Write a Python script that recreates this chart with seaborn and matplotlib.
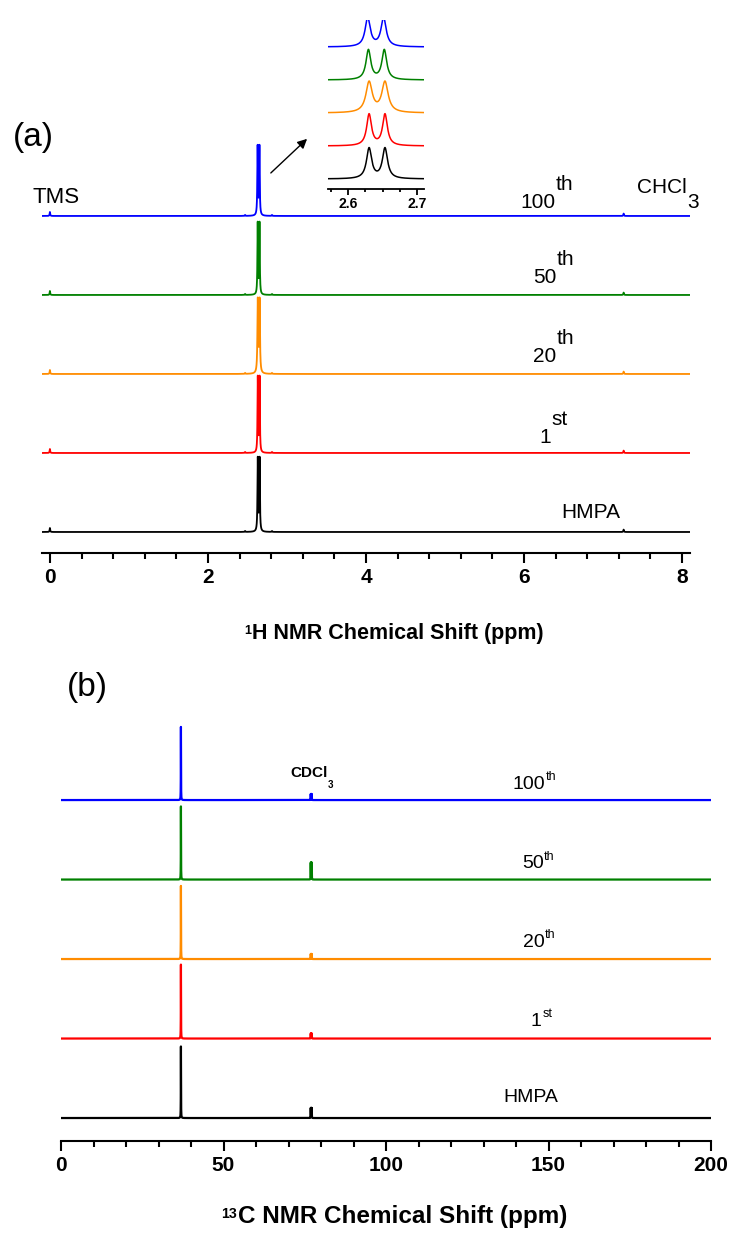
### Packages
import numpy as np
import pandas as pd
import matplotlib
matplotlib.use('Agg')
import matplotlib.pyplot as plt
from matplotlib.ticker import MultipleLocator
import seaborn as sns
sns.set_theme(style='white')
plt.rcParams['font.family'] = ['Liberation Sans', 'DejaVu Sans']
plt.rcParams['text.color'] = 'black'
plt.rcParams['axes.labelcolor'] = 'black'
plt.rcParams['xtick.color'] = 'black'
NARROW = ['Liberation Sans Narrow', 'Liberation Sans', 'DejaVu Sans']

### Data
runs = ['HMPA', '1st', '20th', '50th', '100th']
colors = ['black', '#FF0000', '#FF8C00', '#008000', '#0000FF']

# 1H spectra: HMPA doublet, plus TMS, 13C satellites, CHCl3
h_centre = [2.642, 2.642, 2.642, 2.641, 2.640]
h_split = 0.023
h_height = [0.92, 0.95, 0.92, 0.90, 0.87]
h_width = [0.0045, 0.0042, 0.0055, 0.0042, 0.0045]
h_minor_shift = [0.0, 2.47, 2.81, 7.26]
h_minor_height = [0.05, 0.012, 0.012, 0.03]
h_ticks = [0, 2, 4, 6, 8]
inset_ticks = [2.6, 2.7]

# 13C spectra: HMPA line and CDCl3 triplet
c_hmpa_shift = 36.9
c_hmpa_height = [0.90, 0.93, 0.92, 0.92, 0.92]
c_cdcl3_shift = [76.84, 77.0, 77.16]
c_cdcl3_height = [0.125, 0.063, 0.063, 0.21, 0.075]
c_ticks = [0, 50, 100, 150, 200]


def lorentz(x, x0, h, w):
    return h / (1 + ((x - x0) / w) ** 2)


# build long tables, each run stacked one unit above the previous
h_x = np.linspace(-0.1, 8.1, 20501)
c_x = np.linspace(0, 200, 40001)
h_rows, c_rows = [], []
for i, run in enumerate(runs):
    y = np.full_like(h_x, float(i))
    for s in (-0.5, 0.5):
        y += lorentz(h_x, h_centre[i] + s * h_split, h_height[i], h_width[i])
    for s, h in zip(h_minor_shift, h_minor_height):
        y += lorentz(h_x, s, h, 0.004)
    h_rows.append(pd.DataFrame({'shift': h_x, 'intensity': y, 'run': run}))

    y = np.full_like(c_x, float(i))
    y += lorentz(c_x, c_hmpa_shift, c_hmpa_height[i], 0.03)
    for s in c_cdcl3_shift:
        y += lorentz(c_x, s, c_cdcl3_height[i], 0.02)
    c_rows.append(pd.DataFrame({'shift': c_x, 'intensity': y, 'run': run}))
df_h = pd.concat(h_rows, ignore_index=True)
df_c = pd.concat(c_rows, ignore_index=True)
palette = dict(zip(runs, colors))


def style_axis(ax, ticks, minor, size, major_len, minor_len, lw):
    sns.despine(ax=ax, left=True)
    ax.spines['bottom'].set_linewidth(lw)
    ax.spines['bottom'].set_color('black')
    ax.set_yticks([])
    ax.set_ylabel('')
    ax.set_xticks(ticks)
    ax.set_xticklabels([f'{t:g}' for t in ticks], fontweight='bold',
                       fontsize=size, family=NARROW, color='black')
    ax.xaxis.set_minor_locator(MultipleLocator(minor))
    ax.tick_params(axis='x', which='both', bottom=True, direction='out',
                   width=lw, color='black', pad=4)
    ax.tick_params(axis='x', which='major', length=major_len)
    ax.tick_params(axis='x', which='minor', length=minor_len)
    ax.grid(False)


def label(ax, x, y, base, sup, size, sup_size, rise, **kw):
    t = ax.text(x, y, base, fontsize=size, ha='left', va='baseline', **kw)
    if sup:
        ax.annotate(sup, xy=(1, 0), xycoords=t, xytext=(0.3, rise),
                    textcoords='offset points', fontsize=sup_size,
                    ha='left', va='bottom', **kw)


def xlabel(ax, text, iso, x, y, size):
    ax.set_xlabel(text, fontsize=size, fontweight='bold', family=NARROW)
    ax.xaxis.set_label_coords(x, y)
    ax.annotate(iso, xy=(0, 1), xycoords=ax.xaxis.label, xytext=(-0.5, -1),
                textcoords='offset points', ha='right', va='top',
                fontsize=size * 0.58, fontweight='bold', family=NARROW)


fig = plt.figure(figsize=(7.32, 12.35), dpi=100)

### (a) 1H NMR
ax1 = fig.add_axes([42 / 732, 682 / 1235, 648 / 732, 423 / 1235])
sns.lineplot(data=df_h, x='shift', y='intensity', hue='run', palette=palette,
             estimator=None, sort=False, legend=False, linewidth=1.3, ax=ax1)
ax1.set_xlim(-0.1, 8.1)
ax1.set_ylim(-0.266, 5.088)
style_axis(ax1, h_ticks, 0.4, 15, 7, 4.5, 1.5)
xlabel(ax1, 'H NMR Chemical Shift (ppm)', '1', 0.549, -0.166, 15.5)

label(ax1, 5.95, 4.10, '100', 'th', 15, 15, 13)
label(ax1, 6.115, 3.15, '50', 'th', 15, 15, 13)
label(ax1, 6.115, 2.15, '20', 'th', 15, 15, 13)
label(ax1, 6.19, 1.13, '1', 'st', 15, 15, 13)
label(ax1, 6.47, 0.18, 'HMPA', None, 15, 15, 0)
label(ax1, -0.226, 4.16, 'TMS', None, 16, 16, 0)
label(ax1, 7.43, 4.29, 'CHCl', '3', 15, 15, -10.8)
ax1.annotate('', xy=(3.28, 5.0), xytext=(2.77, 4.52), annotation_clip=False,
             arrowprops=dict(arrowstyle='-|>', color='black', lw=1,
                             mutation_scale=14))
fig.text(13 / 732, 1 - 146 / 1235, '(a)', fontsize=24, va='baseline')

# inset: zoom on the HMPA doublet
ins = fig.add_axes([328 / 732, 1046 / 1235, 96 / 732, 169 / 1235])
sub = df_h[(df_h['shift'] > 2.56) & (df_h['shift'] < 2.72)]
sns.lineplot(data=sub, x='shift', y='intensity', hue='run', palette=palette,
             estimator=None, sort=False, legend=False, linewidth=1.1, ax=ins)
ins.set_xlim(2.571, 2.710)
ins.set_ylim(-0.303, 4.818)
style_axis(ins, inset_ticks, 0.025, 10, 4, 2.5, 1.3)
ins.set_xlabel('')
ins.tick_params(axis='x', pad=2)

### (b) 13C NMR
ax2 = fig.add_axes([61 / 732, 94 / 1235, 650 / 732, 426 / 1235])
sns.lineplot(data=df_c, x='shift', y='intensity', hue='run', palette=palette,
             estimator=None, sort=False, legend=False, linewidth=1.6, ax=ax2)
ax2.set_xlim(0, 200)
ax2.set_ylim(-0.289, 5.07)
style_axis(ax2, c_ticks, 10, 15, 7, 4.5, 1.5)
xlabel(ax2, 'C NMR Chemical Shift (ppm)', '13', 0.525, -0.151, 17.5)

label(ax2, 139, 4.14, '100', 'th', 14, 9, 7)
label(ax2, 141.8, 3.14, '50', 'th', 14, 9, 7)
label(ax2, 142, 2.15, '20', 'th', 14, 9, 7)
label(ax2, 144.6, 1.16, '1', 'st', 14, 9, 7)
label(ax2, 136, 0.2, 'HMPA', None, 14, 14, 0)
label(ax2, 70.5, 4.29, 'CDCl', '3', 11, 7, -7, fontweight='bold')
fig.text(67 / 732, 1 - 696 / 1235, '(b)', fontsize=24, va='baseline')

fig.savefig('out.png', dpi=100)
